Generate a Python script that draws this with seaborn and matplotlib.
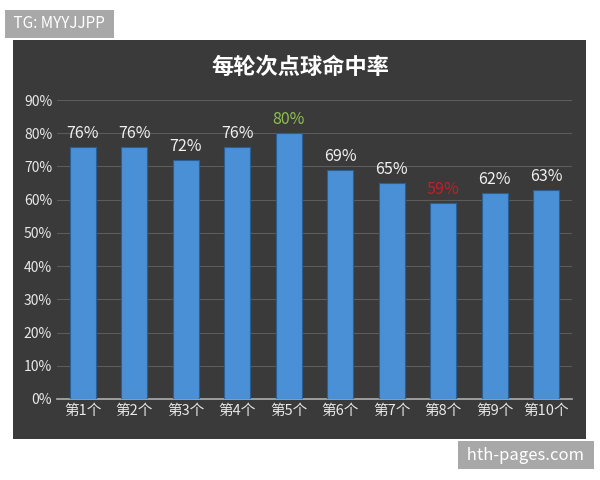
import matplotlib
matplotlib.use("Agg")
import matplotlib.pyplot as plt
import seaborn as sns
import pandas as pd
from matplotlib.patches import Rectangle

rondas = ['第1个', '第2个', '第3个', '第4个', '第5个', '第6个', '第7个', '第8个', '第9个', '第10个']
tasa = [76, 76, 72, 76, 80, 69, 65, 59, 62, 63]
etiquetas = ['76%', '76%', '72%', '76%', '80%', '69%', '65%', '59%', '62%', '63%']
colores_etq = ['#f0f0f0'] * 4 + ['#8fbf4f'] + ['#f0f0f0'] * 2 + ['#c0202a'] + ['#f0f0f0'] * 2
yticks = [0, 10, 20, 30, 40, 50, 60, 70, 80, 90]

sns.set_theme(style="dark")
plt.rcParams['font.family'] = ['Noto Sans CJK SC', 'DejaVu Sans']

df = pd.DataFrame({'ronda': rondas, 'tasa': tasa})

fig = plt.figure(figsize=(6, 4.8), dpi=100)
fig.patch.set_facecolor('white')
# panel oscuro (por debajo de los ejes)
fig.patches.append(Rectangle((13/600, 1-439/480), 573/600, 399/480, transform=fig.transFigure,
                             facecolor='#3a3a3a', edgecolor='none', zorder=-10))
ax = fig.add_axes([57/600, 1-399/480, 515/600, 299/480])
ax.set_zorder(1)
ax.set_facecolor('none')
sns.barplot(ax=ax, data=df, x='ronda', y='tasa', color='#4a90d6', width=0.5,
            saturation=1, edgecolor='#2b5f94', linewidth=0.8, zorder=3)
ax.set_ylim(0, 90)
ax.set_yticks(yticks)
ax.set_yticklabels([f'{v}%' for v in yticks], color='#e8e8e8', fontsize=10)
ax.tick_params(axis='x', colors='#e8e8e8', labelsize=10.5, length=0)
ax.tick_params(axis='y', length=0)
ax.set_xlabel('')
ax.set_ylabel('')
ax.grid(axis='y', color='#5c5c5c', linewidth=0.8, zorder=0)
ax.grid(axis='x', visible=False)
for s in ['top', 'right', 'left']:
    ax.spines[s].set_visible(False)
ax.spines['bottom'].set_color('#aaaaaa')
for i, (v, t, c) in enumerate(zip(tasa, etiquetas, colores_etq)):
    ax.text(i, v + 1.5, t, ha='center', va='bottom', color=c, fontsize=11.5)

fig.text(0.5, 1-67/480, '每轮次点球命中率', ha='center', va='center', color='white',
         fontsize=16, fontweight='bold')
# marcas de agua
fig.text(10/600, 1-24/480, ' TG: MYYJJPP ', ha='left', va='center', color='white', fontsize=11,
         bbox=dict(facecolor='#a8a8a8', edgecolor='none', pad=4))
fig.text(588/600, 1-455/480, ' hth-pages.com ', ha='right', va='center', color='white', fontsize=12,
         bbox=dict(facecolor='#a8a8a8', edgecolor='none', pad=4))

fig.savefig('out.png', dpi=100)
